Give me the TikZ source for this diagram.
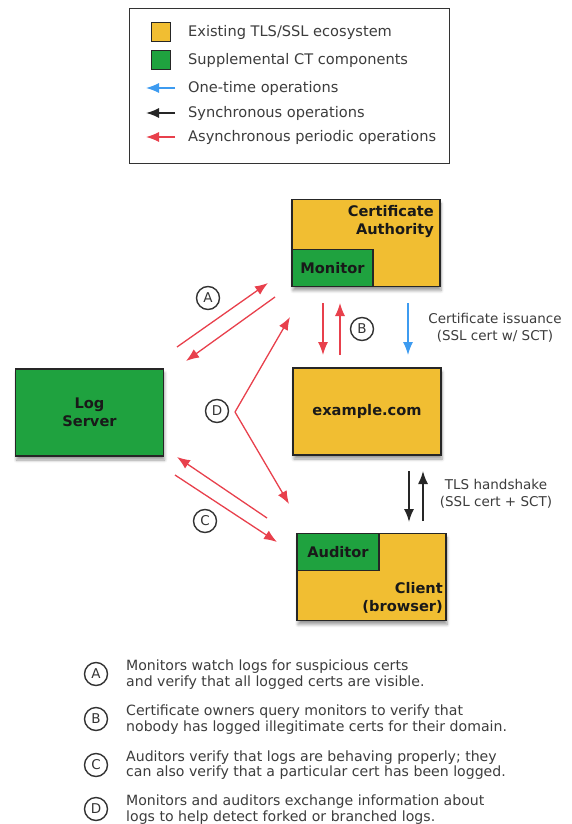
\documentclass[tikz,border=0pt]{standalone}
\usepackage{fontspec}
\setmainfont{DejaVu Sans}
\usetikzlibrary{arrows.meta,shadows.blur}
\definecolor{caY}{HTML}{F1BE32}
\definecolor{ctG}{HTML}{1FA23F}
\definecolor{arR}{HTML}{E8404C}
\definecolor{arB}{HTML}{3D9BF0}
\definecolor{txt}{HTML}{3C3C3C}
\tikzset{
  box/.style={draw=black!85, line width=1.2pt, inner sep=0pt, minimum width=148pt, minimum height=87pt,
    blur shadow={shadow xshift=1pt, shadow yshift=-4pt, shadow blur steps=6, shadow blur radius=3pt}},
  subbox/.style={draw=black!85, line width=1.2pt, fill=ctG, inner sep=0pt, minimum width=81pt, minimum height=37pt},
  blabel/.style={font=\fontsize{14.6}{18}\selectfont\bfseries, text=black!90, inner sep=0pt},
  lbl/.style={font=\fontsize{13.5}{17}\selectfont, text=txt, align=center, inner sep=0pt},
  redar/.style={draw=arR, line width=1.3pt, -{Latex[length=13pt,width=10pt]}},
  bluear/.style={draw=arB, line width=1.3pt, -{Latex[length=13pt,width=10pt]}},
  blackar/.style={draw=black!85, line width=1.6pt, -{Latex[length=13pt,width=10pt]}},
  circ/.style={circle, draw=black!80, line width=1.4pt, minimum size=23pt, inner sep=0pt,
    font=\fontsize{13.5}{13.5}\selectfont, text=black!80},
  legtxt/.style={font=\fontsize{14.6}{14.6}\selectfont, text=txt, anchor=west, inner sep=0pt},
  desc/.style={font=\fontsize{14.1}{15.5}\selectfont, text=txt, anchor=west, align=left, inner sep=0pt},
  legsq/.style={draw=black!85, line width=1pt, minimum size=19pt, inner sep=0pt}
}
\begin{document}
\begin{tikzpicture}[x=1pt,y=-1pt]
\useasboundingbox (0,0) rectangle (572,824);
% legend
\node[draw=black!80, line width=1pt, minimum width=320pt, minimum height=154pt, inner sep=0pt] (legend) at (289,86) {};
\node[legsq, fill=caY] (lsq1) at (161,32) {};
\node[legsq, fill=ctG] (lsq2) at (161,60) {};
\coordinate (lb1) at (175,88); \coordinate (lb2) at (146,88);
\coordinate (lk1) at (175,113); \coordinate (lk2) at (146,113);
\coordinate (lr1) at (175,137); \coordinate (lr2) at (146,137);
\draw[bluear] (lb1) -- (lb2);
\draw[blackar] (lk1) -- (lk2);
\draw[redar] (lr1) -- (lr2);
\node[legtxt] (lt1) at (188,32) {Existing TLS/SSL ecosystem};
\node[legtxt] (lt2) at (188,60) {Supplemental CT components};
\node[legtxt] (lt3) at (188,88) {One-time operations};
\node[legtxt] (lt4) at (188,113) {Synchronous operations};
\node[legtxt] (lt5) at (188,137) {Asynchronous periodic operations};
% boxes
\node[box, fill=caY] (ca) at (366,243) {};
\node[subbox, anchor=south west] (mon) at (ca.south west) {};
\node[blabel, align=right, anchor=east] (catxt) at (434,222) {Certificate\\Authority};
\node[blabel] (montxt) at (mon.center) {Monitor};
\node[box, fill=caY] (ex) at (367,411.5) {};
\node[blabel] (extxt) at (ex.center) {example.com};
\node[box, fill=ctG] (log) at (89.5,412.5) {};
\node[blabel, align=center] (logtxt) at (log.center) {Log\\Server};
\node[box, fill=caY, minimum width=149pt] (cl) at (371.5,577) {};
\node[subbox, anchor=north west, minimum width=82pt] (aud) at (cl.north west) {};
\node[blabel] (audtxt) at (aud.center) {Auditor};
\node[blabel, align=right, anchor=east] (cltxt) at (443,597.5) {Client\\(browser)};
% A
\coordinate (a1s) at (177,347); \coordinate (a1e) at (268,283);
\coordinate (a2s) at (275,297); \coordinate (a2e) at (186,361);
\draw[redar] (a1s) -- (a1e);
\draw[redar] (a2s) -- (a2e);
\node[circ] (cA) at (208,298) {A};
% D
\coordinate (dv) at (235,412);
\coordinate (d1) at (290,317);
\coordinate (d2) at (289,504);
\draw[redar] (dv) -- (d1);
\draw[redar] (dv) -- (d2);
\node[circ] (cD) at (217,411) {D};
% C
\coordinate (c1s) at (267,518); \coordinate (c1e) at (177,457);
\coordinate (c2s) at (175,475); \coordinate (c2e) at (277,542);
\draw[redar] (c1s) -- (c1e);
\draw[redar] (c2s) -- (c2e);
\node[circ] (cC) at (205,521) {C};
% B
\coordinate (b1s) at (323,303); \coordinate (b1e) at (323,355);
\coordinate (b2s) at (340,355); \coordinate (b2e) at (340,303);
\draw[redar] (b1s) -- (b1e);
\draw[redar] (b2s) -- (b2e);
\node[circ] (cB) at (362,329) {B};
% issuance
\coordinate (is1) at (408,303); \coordinate (is2) at (408,355);
\draw[bluear] (is1) -- (is2);
\node[lbl] (istxt) at (495,328) {Certificate issuance\\(SSL cert w/ SCT)};
% TLS
\coordinate (t1s) at (409,471); \coordinate (t1e) at (409,522);
\coordinate (t2s) at (423,521); \coordinate (t2e) at (423,471);
\draw[blackar] (t1s) -- (t1e);
\draw[blackar] (t2s) -- (t2e);
\node[lbl] (tltxt) at (496,493.5) {TLS handshake\\(SSL cert + SCT)};
% descriptions
\node[circ] (dA) at (96,674) {A};
\node[desc] (tA) at (126,674.5) {Monitors watch logs for suspicious certs\\and verify that all logged certs are visible.};
\node[circ] (dB) at (96,719) {B};
\node[desc] (tB) at (126,719.5) {Certificate owners query monitors to verify that\\nobody has logged illegitimate certs for their domain.};
\node[circ] (dC) at (96,765) {C};
\node[desc] (tC) at (126,765) {Auditors verify that logs are behaving properly; they\\can also verify that a particular cert has been logged.};
\node[circ] (dD) at (96,809) {D};
\node[desc] (tD) at (126,809.5) {Monitors and auditors exchange information about\\logs to help detect forked or branched logs.};
\end{tikzpicture}
\end{document}
